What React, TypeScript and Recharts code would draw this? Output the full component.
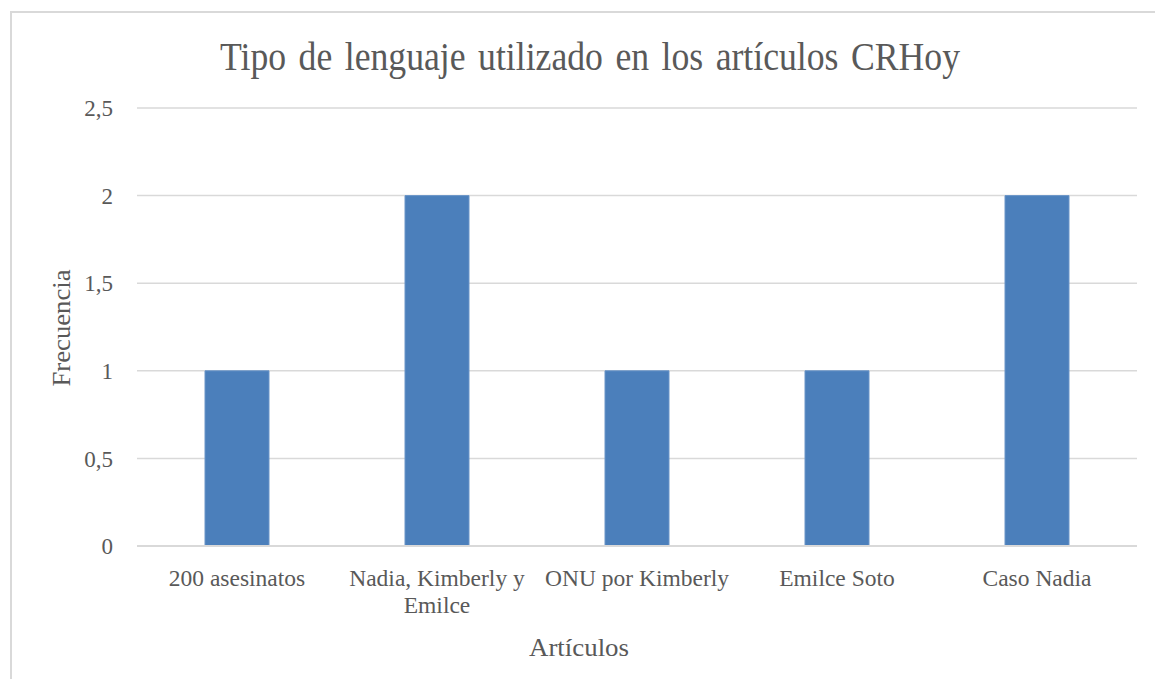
import { BarChart, Bar, XAxis, YAxis, CartesianGrid } from "recharts";

const articulos = [
    "200 asesinatos",
    "Nadia, Kimberly y Emilce",
    "ONU por Kimberly",
    "Emilce Soto",
    "Caso Nadia",
];
const frecuencia = [1, 2, 1, 1, 2];
const yTicks = [0, 0.5, 1, 1.5, 2, 2.5];
// how each category label is broken into lines under the axis
const tickLines: Record<string, string[]> = {
    "Nadia, Kimberly y Emilce": ["Nadia, Kimberly y", "Emilce"],
};

const data = articulos.map((name, i) => ({ name, value: frecuencia[i] }));

const FONT = "'Liberation Serif', 'Times New Roman', serif";
const GREY = "#595959";

const ArticleTick = (props: any) => {
    const { x, y, payload } = props;
    const lines = tickLines[payload.value] ?? [payload.value];
    return (
        <g transform={`translate(${x},${y})`}>
            {lines.map((line, i) => (
                <text
                    key={i}
                    x={0}
                    y={38 + i * 27}
                    textAnchor="middle"
                    fill={GREY}
                    fontSize={23.5}
                    fontFamily={FONT}
                >
                    {line}
                </text>
            ))}
        </g>
    );
};

const App = () => {
    return (
        <div
            style={{
                position: "absolute",
                left: 0,
                top: 0,
                width: 1155,
                height: 679,
                overflow: "hidden",
                background: "#fff",
            }}
        >
            <div
                style={{
                    position: "absolute",
                    left: 10,
                    top: 11,
                    width: 1300,
                    height: 800,
                    border: "2px solid #d9d9d9",
                    boxSizing: "border-box",
                }}
            />
            <BarChart
                width={1155}
                height={679}
                data={data}
                margin={{ top: 108, right: 18, bottom: 0, left: 0 }}
                barCategoryGap="34%"
                style={{ position: "absolute", left: 0, top: 0 }}
            >
                <CartesianGrid vertical={false} stroke="#d9d9d9" strokeWidth={1.5} />
                <XAxis
                    dataKey="name"
                    height={133}
                    tickLine={false}
                    tickSize={0}
                    axisLine={{ stroke: "#d9d9d9", strokeWidth: 2 }}
                    tick={<ArticleTick />}
                    interval={0}
                />
                <YAxis
                    width={137}
                    domain={[0, 2.5]}
                    ticks={yTicks}
                    axisLine={false}
                    tickLine={false}
                    tickSize={0}
                    tickMargin={24}
                    tickFormatter={(v: number) => String(v).replace(".", ",")}
                    tick={{ fill: GREY, fontSize: 23, fontFamily: FONT }}
                />
                <Bar dataKey="value" fill="#4b7fbb" stroke="#6a95c8" strokeWidth={1} isAnimationActive={false} />
            </BarChart>
            <svg
                width={1155}
                height={679}
                style={{ position: "absolute", left: 0, top: 0, pointerEvents: "none" }}
            >
                <text
                    x={590}
                    y={70}
                    textAnchor="middle"
                    fill={GREY}
                    fontSize={40}
                    fontFamily={FONT}
                    wordSpacing={4}
                    textLength={740}
                    lengthAdjust="spacingAndGlyphs"
                >
                    Tipo de lenguaje utilizado en los artículos CRHoy
                </text>
                <text
                    x={0}
                    y={0}
                    transform="translate(70,328) rotate(-90)"
                    textAnchor="middle"
                    fill={GREY}
                    fontSize={25}
                    fontFamily={FONT}
                    textLength={117}
                    lengthAdjust="spacingAndGlyphs"
                >
                    Frecuencia
                </text>
                <text
                    x={579}
                    y={656}
                    textAnchor="middle"
                    fill={GREY}
                    fontSize={25}
                    fontFamily={FONT}
                    textLength={100}
                    lengthAdjust="spacingAndGlyphs"
                >
                    Artículos
                </text>
            </svg>
        </div>
    );
};

export default App;
